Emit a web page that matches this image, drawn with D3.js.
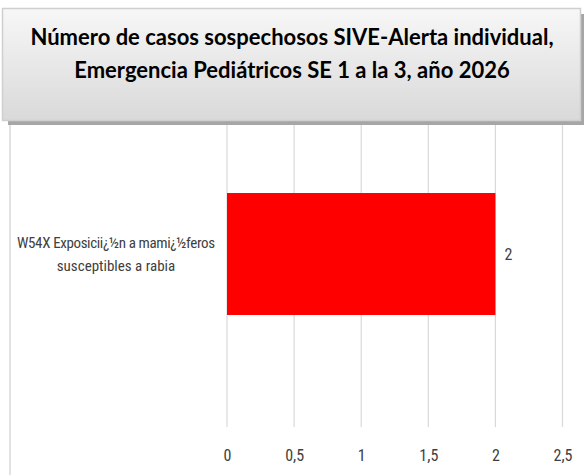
<!DOCTYPE html>
<html>
<head>
<meta charset="utf-8">
<script src="https://d3js.org/d3.v7.min.js"></script>
<style>
  html, body { margin: 0; padding: 0; background: #fff; }
  svg { display: block; }
</style>
</head>
<body>
<div id="chart"></div>
<script>
// chart data
var categories = ["W54X Exposicii¿½n a mami¿½feros susceptibles a rabia"];
var categoryLines = [["W54X Exposicii¿½n a mami¿½feros", "susceptibles a rabia"]];
var values = [2];
var tickValues = [0, 0.5, 1, 1.5, 2, 2.5];
var titleLines = ["Número de casos sospechosos SIVE-Alerta individual,",
                  "Emergencia Pediátricos SE 1 a la 3, año 2026"];

var width = 584, height = 475;
var narrow = "'Liberation Sans Narrow', 'Roboto Condensed', 'DejaVu Sans Condensed', 'Arial Narrow', sans-serif";

var svg = d3.select("#chart").append("svg")
    .attr("width", width)
    .attr("height", height);

var x = d3.scaleLinear().domain([0, 2.5]).range([227, 562.5]);
var y = d3.scaleBand().domain(categories).range([81, 427]).padding(0.4787);

// chart frame left edge
svg.append("line")
    .attr("x1", 10).attr("x2", 10)
    .attr("y1", 120).attr("y2", height)
    .attr("stroke", "#d9d9d9").attr("stroke-width", 1.5);

// gridlines
svg.selectAll(".grid")
    .data(tickValues)
    .enter().append("line")
    .attr("class", "grid")
    .attr("x1", function(d) { return x(d); })
    .attr("x2", function(d) { return x(d); })
    .attr("y1", 120).attr("y2", 427)
    .attr("stroke", "#d9d9d9").attr("stroke-width", 1.2);

// bars
svg.selectAll(".bar")
    .data(values)
    .enter().append("rect")
    .attr("class", "bar")
    .attr("x", x(0))
    .attr("y", function(d, i) { return y(categories[i]); })
    .attr("width", function(d) { return x(d) - x(0); })
    .attr("height", y.bandwidth())
    .attr("fill", "#ff0000");

// data labels
svg.selectAll(".val")
    .data(values)
    .enter().append("text")
    .attr("x", function(d) { return x(d) + 9; })
    .attr("y", function(d, i) { return y(categories[i]) + y.bandwidth() / 2; })
    .attr("dy", "0.35em")
    .attr("font-family", narrow).attr("font-size", 16)
    .attr("fill", "#404040")
    .text(function(d) { return String(d).replace(".", ","); });

// category labels
categories.forEach(function(c, i) {
    var t = svg.append("text")
        .attr("text-anchor", "middle")
        .attr("font-family", narrow).attr("font-size", 15)
        .attr("fill", "#404040");
    var cy = y(c) + y.bandwidth() / 2;
    categoryLines[i].forEach(function(line, j) {
        t.append("tspan")
            .attr("x", 116)
            .attr("y", cy + (j - (categoryLines[i].length - 1) / 2) * 23)
            .attr("dy", "0.35em")
            .attr("textLength", j === 0 ? 198 : null)
            .text(line);
    });
});

// x axis tick labels
var xAxis = d3.axisBottom(x)
    .tickValues(tickValues)
    .tickSize(0)
    .tickPadding(0)
    .tickFormat(function(d) { return String(d).replace(".", ","); });
var gx = svg.append("g")
    .attr("transform", "translate(0,450)")
    .call(xAxis);
gx.select(".domain").remove();
gx.selectAll("text")
    .attr("font-family", narrow).attr("font-size", 16)
    .attr("fill", "#404040");

// title box
var defs = svg.append("defs");
var grad = defs.append("linearGradient")
    .attr("id", "tg").attr("x1", 0).attr("y1", 0).attr("x2", 0).attr("y2", 1);
grad.append("stop").attr("offset", "0%").attr("stop-color", "#f7f7f7");
grad.append("stop").attr("offset", "100%").attr("stop-color", "#d9d9d9");

svg.append("rect")
    .attr("x", 8).attr("y", 14)
    .attr("width", 576).attr("height", 111)
    .attr("fill", "#a6a6a6");
svg.append("rect")
    .attr("x", 2.5).attr("y", 8.5)
    .attr("width", 578).attr("height", 112)
    .attr("fill", "url(#tg)")
    .attr("stroke", "#cfcfcf").attr("stroke-width", 1.5);

svg.append("g").selectAll("text")
    .data(titleLines)
    .enter().append("text")
    .attr("x", 292)
    .attr("y", function(d, i) { return 45 + i * 33; })
    .attr("text-anchor", "middle")
    .attr("font-family", "Lato, 'Open Sans', sans-serif")
    .attr("font-weight", "bold")
    .attr("font-size", 22)
    .attr("fill", "#000")
    .text(function(d) { return d; });
</script>
</body>
</html>
